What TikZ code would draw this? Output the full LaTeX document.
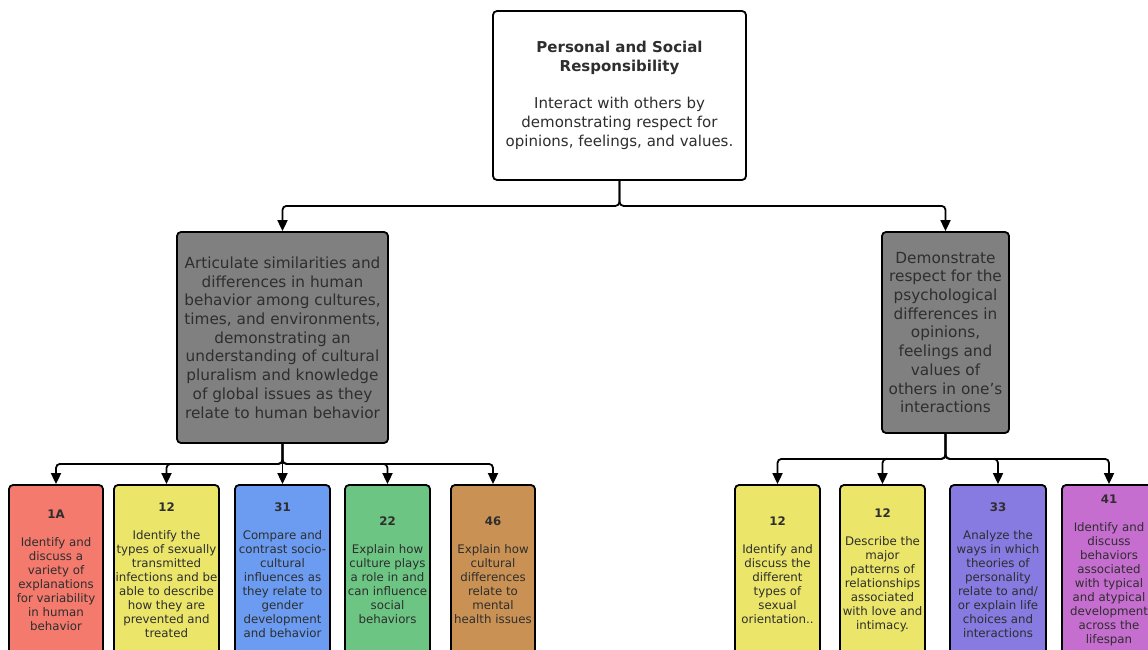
\documentclass[tikz,border=0pt]{standalone}
\usepackage{fontspec}
\setmainfont{DejaVu Sans}
\usepackage{xcolor}
\usetikzlibrary{arrows.meta}
\definecolor{txt}{HTML}{2E2E2E}
\definecolor{midgray}{HTML}{808080}
\definecolor{cred}{HTML}{F47A6D}
\definecolor{cyellow}{HTML}{EBE66A}
\definecolor{cblue}{HTML}{6B9CF1}
\definecolor{cgreen}{HTML}{6CC583}
\definecolor{cbrown}{HTML}{CA9154}
\definecolor{cviolet}{HTML}{877AE0}
\definecolor{cmagenta}{HTML}{C66ECF}
\tikzset{
  box/.style={draw=black,line width=1.8pt,rounded corners=4pt,inner sep=0pt,align=center,text=txt},
  goal/.style={box,fill=midgray,font=\fontsize{15.3}{18.7}\selectfont},
  leaf/.style={box,minimum height=170pt,font=\fontsize{11.8}{14}\selectfont},
  link/.style={line width=1.8pt,rounded corners=4pt,-{Triangle[width=10pt,length=11pt]}}
}
\begin{document}
\begin{tikzpicture}[x=1pt,y=-1pt]
    \clip (0,0) rectangle (1148,650);
    \fill[white] (0,0) rectangle (1148,650);
    \node[box,minimum width=253pt,minimum height=169pt,font=\fontsize{15}{19}\selectfont] (psr) at (619.5,95.5)
      {\textbf{Personal and Social}\\\textbf{Responsibility}\\[18pt]Interact with others by\\demonstrating respect for\\opinions, feelings, and values.};
    \node[goal,minimum width=211pt,minimum height=211pt] (cult) at (282.5,337.5)
      {Articulate similarities and\\differences in human\\behavior among cultures,\\times, and environments,\\demonstrating an\\understanding of cultural\\pluralism and knowledge\\of global issues as they\\relate to human behavior};
    \node[goal,minimum width=127pt,minimum height=201pt] (resp) at (945.5,332.5)
      {Demonstrate\\respect for the\\psychological\\differences in\\opinions,\\feelings and\\values of\\others in one's\\interactions};
    % outcomes under the first goal
    \node[leaf,fill=cred,minimum width=94pt] (o1a) at (56,570)
      {\textbf{1A}\\[14pt]Identify and\\discuss a\\variety of\\explanations\\for variability\\in human\\behavior};
    \node[leaf,fill=cyellow,minimum width=105pt] (o12a) at (166.5,570)
      {\textbf{12}\\[14pt]Identify the\\types of sexually\\transmitted\\infections and be\\able to describe\\how they are\\prevented and\\treated};
    \node[leaf,fill=cblue,minimum width=95pt] (o31) at (282.5,570)
      {\textbf{31}\\[14pt]Compare and\\contrast socio-\\cultural\\influences as\\they relate to\\gender\\development\\and behavior};
    \node[leaf,fill=cgreen,minimum width=85pt] (o22) at (387.5,570)
      {\textbf{22}\\[14pt]Explain how\\culture plays\\a role in and\\can influence\\social\\behaviors};
    \node[leaf,fill=cbrown,minimum width=84pt] (o46) at (493,570)
      {\textbf{46}\\[14pt]Explain how\\cultural\\differences\\relate to\\mental\\health issues};
    % outcomes under the second goal
    \node[leaf,fill=cyellow,minimum width=85pt] (o12b) at (777.5,570)
      {\textbf{12}\\[14pt]Identify and\\discuss the\\different\\types of\\sexual\\orientation..};
    \node[leaf,fill=cyellow,minimum width=85pt] (o12c) at (882.5,570)
      {\textbf{12}\\[14pt]Describe the\\major\\patterns of\\relationships\\associated\\with love and\\intimacy.};
    \node[leaf,fill=cviolet,minimum width=96pt] (o33) at (998,570)
      {\textbf{33}\\[14pt]Analyze the\\ways in which\\theories of\\personality\\relate to and/\\or explain life\\choices and\\interactions};
    \node[leaf,fill=cmagenta,minimum width=94pt] (o41) at (1109,570)
      {\textbf{41}\\[14pt]Identify and\\discuss\\behaviors\\associated\\with typical\\and atypical\\development\\across the\\lifespan};
    \draw[link] (psr.south) -- ++(0,25) -| (cult.north);
    \draw[link] (psr.south) -- ++(0,25) -| (resp.north);
    \foreach \n in {o1a,o12a,o31,o22,o46}
      \draw[link] (cult.south) -- ++(0,20) -| (\n.north);
    \foreach \n in {o12b,o12c,o33,o41}
      \draw[link] (resp.south) -- ++(0,25) -| (\n.north);
\end{tikzpicture}
\end{document}
